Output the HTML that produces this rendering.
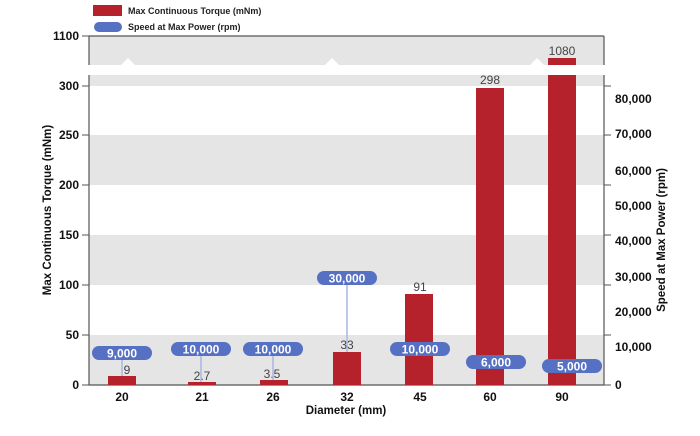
<!DOCTYPE html>
<html><head><meta charset="utf-8"><style>
body{margin:0;background:#fff}
svg text{font-family:"Liberation Sans",Arial,sans-serif}
</style></head><body>
<svg width="700" height="431" viewBox="0 0 700 431" xmlns="http://www.w3.org/2000/svg">
<rect x="89" y="36" width="515" height="30" fill="#e5e5e5"/>
<rect x="89" y="75" width="515" height="11" fill="#e5e5e5"/>
<rect x="89" y="135" width="515" height="50" fill="#e5e5e5"/>
<rect x="89" y="235" width="515" height="50" fill="#e5e5e5"/>
<rect x="89" y="335" width="515" height="50" fill="#e5e5e5"/>
<polygon fill="#fff" points="86,65 121,65 128,58 135,65 325,65 332,58 339,65 530,65 537,58 544,65 610,65 610,75 544,75 537,68 530,75 339,75 332,68 325,75 135,75 128,68 121,75 86,75"/>
<line x1="89" y1="36" x2="604" y2="36" stroke="#555" stroke-width="1.2"/>
<line x1="89" y1="36" x2="89" y2="65" stroke="#555" stroke-width="1.2"/>
<line x1="89" y1="75" x2="89" y2="385" stroke="#555" stroke-width="1.2"/>
<line x1="604" y1="36" x2="604" y2="65" stroke="#555" stroke-width="1.2"/>
<line x1="604" y1="75" x2="604" y2="385" stroke="#555" stroke-width="1.2"/>
<line x1="89" y1="385" x2="604" y2="385" stroke="#555" stroke-width="1.2"/>
<g stroke="#555" stroke-width="1">
<line x1="82" y1="36" x2="89" y2="36"/>
<line x1="82" y1="86" x2="89" y2="86"/><line x1="82" y1="135" x2="89" y2="135"/>
<line x1="82" y1="185" x2="89" y2="185"/><line x1="82" y1="235" x2="89" y2="235"/>
<line x1="82" y1="285" x2="89" y2="285"/><line x1="82" y1="335" x2="89" y2="335"/>
<line x1="82" y1="385" x2="89" y2="385"/>
<line x1="604" y1="86" x2="611" y2="86"/><line x1="604" y1="135" x2="611" y2="135"/>
<line x1="604" y1="185" x2="611" y2="185"/><line x1="604" y1="235" x2="611" y2="235"/>
<line x1="604" y1="285" x2="611" y2="285"/><line x1="604" y1="335" x2="611" y2="335"/>
<line x1="604" y1="385" x2="611" y2="385"/>
</g>
<g font-size="12" font-weight="bold" fill="#111" text-anchor="end">
<text x="79" y="40">1100</text><text x="79" y="90">300</text><text x="79" y="139">250</text>
<text x="79" y="189">200</text><text x="79" y="239">150</text><text x="79" y="289">100</text>
<text x="79" y="339">50</text><text x="79" y="389">0</text>
</g>
<g font-size="12" font-weight="bold" fill="#111">
<text x="615" y="103">80,000</text><text x="615" y="138">70,000</text><text x="615" y="175">60,000</text>
<text x="615" y="210">50,000</text><text x="615" y="245">40,000</text><text x="615" y="281">30,000</text>
<text x="615" y="316">20,000</text><text x="615" y="351">10,000</text><text x="615" y="389">0</text>
</g>
<g fill="#b5222b">
<rect x="108" y="376" width="28" height="9"/>
<rect x="188" y="382" width="28" height="3"/>
<rect x="260" y="380" width="28" height="5"/>
<rect x="333" y="352" width="28" height="33"/>
<rect x="405" y="294" width="28" height="91"/>
<rect x="476" y="88" width="28" height="297"/>
<rect x="548" y="58" width="28" height="7"/>
<rect x="548" y="75" width="28" height="310"/>
</g>
<g font-size="12" fill="#444" text-anchor="middle">
<text x="127" y="374">9</text><text x="202" y="380">2.7</text><text x="272" y="378">3.5</text>
<text x="347" y="349">33</text><text x="420" y="291">91</text><text x="490" y="84">298</text><text x="562" y="55">1080</text>
</g>
<g stroke="#a9b6e0" stroke-width="1.5">
<line x1="122" y1="353" x2="122" y2="376"/>
<line x1="201" y1="349" x2="201" y2="382"/>
<line x1="273" y1="349" x2="273" y2="380"/>
<line x1="347" y1="278" x2="347" y2="352"/>
</g>
<g fill="#5670c4">
<rect x="92" y="346" width="60" height="14" rx="7"/>
<rect x="171" y="342" width="60" height="14" rx="7"/>
<rect x="243" y="342" width="60" height="14" rx="7"/>
<rect x="317" y="271" width="60" height="14" rx="7"/>
<rect x="390" y="342" width="60" height="14" rx="7"/>
<rect x="466" y="355" width="60" height="14" rx="7"/>
<rect x="542" y="359" width="60" height="14" rx="7"/>
</g>
<g font-size="12" font-weight="bold" fill="#fff" text-anchor="middle">
<text x="122" y="357.5">9,000</text><text x="201" y="353.5">10,000</text><text x="273" y="353.5">10,000</text>
<text x="347" y="282.5">30,000</text><text x="420" y="353.5">10,000</text><text x="496" y="366.5">6,000</text><text x="572" y="370.5">5,000</text>
</g>
<g font-size="12" font-weight="bold" fill="#111" text-anchor="middle">
<text x="122" y="401">20</text><text x="202" y="401">21</text><text x="273" y="401">26</text>
<text x="347" y="401">32</text><text x="420" y="401">45</text><text x="490" y="401">60</text><text x="562" y="401">90</text>
<text x="346" y="414" font-size="11.5">Diameter (mm)</text>
<text transform="translate(51,210) rotate(-90)" font-size="11.5">Max Continuous Torque (mNm)</text>
<text transform="translate(665,240) rotate(-90)" font-size="11.5">Speed at Max Power (rpm)</text>
</g>
<rect x="93" y="5" width="29" height="11" fill="#b5222b"/>
<rect x="94" y="22" width="28" height="10" rx="5" fill="#5670c4"/>
<g font-size="9" font-weight="bold" fill="#222">
<text x="128" y="14">Max Continuous Torque (mNm)</text>
<text x="128" y="30">Speed at Max Power (rpm)</text>
</g>
</svg>
</body></html>
